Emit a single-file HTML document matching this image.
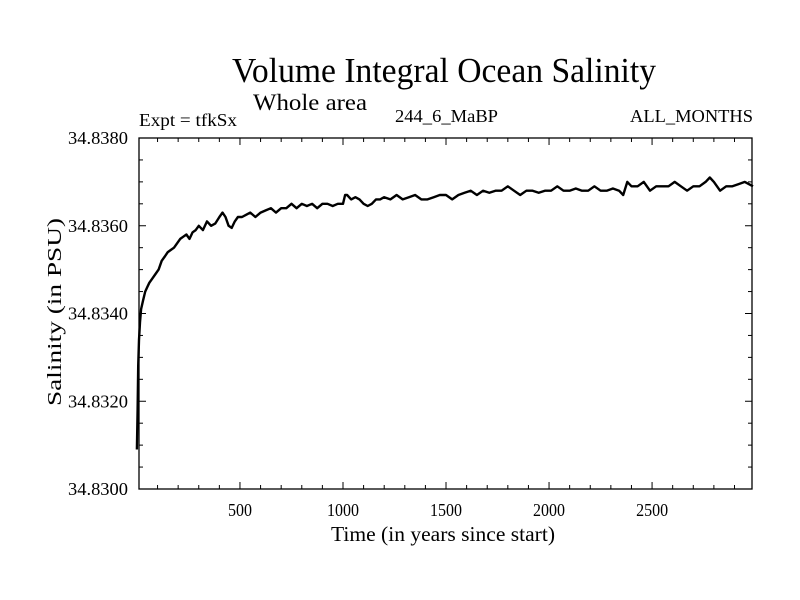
<!DOCTYPE html>
<html><head><meta charset="utf-8"><style>
body{margin:0;background:#fff}
svg{display:block;font-family:"Liberation Serif",serif}
</style></head><body>
<svg id="chart" width="800" height="600">
<text x="232" y="82" font-size="35" textLength="424" lengthAdjust="spacingAndGlyphs">Volume Integral Ocean Salinity</text>
<text x="253" y="110" font-size="23" textLength="114" lengthAdjust="spacingAndGlyphs">Whole area</text>
<text x="139" y="126" font-size="18" textLength="98" lengthAdjust="spacingAndGlyphs">Expt = tfkSx</text>
<text x="395" y="122" font-size="18" textLength="103" lengthAdjust="spacingAndGlyphs">244_6_MaBP</text>
<text x="630" y="122" font-size="18" textLength="123" lengthAdjust="spacingAndGlyphs">ALL_MONTHS</text>
<text x="443" y="541" font-size="21" text-anchor="middle" textLength="224" lengthAdjust="spacingAndGlyphs">Time (in years since start)</text>
<text transform="translate(61,312) rotate(-90)" font-size="20" text-anchor="middle" textLength="188" lengthAdjust="spacingAndGlyphs">Salinity (in PSU)</text>
<g id="axes"></g>
<g id="series"></g>
</svg>
<script>
const xTicks=[500,1000,1500,2000,2500];
const yTicks=[34.830,34.832,34.834,34.836,34.838];
const yTickLabels=["34.8300","34.8320","34.8340","34.8360","34.8380"];
const years=[0,3,6,10,15,20,30,40,50,60,75,90,105,120,135,150,165,180,195,210,225,240,255,270,285,300,320,340,360,380,400,415,430,445,460,475,490,510,530,550,575,600,625,650,675,700,725,750,775,800,825,850,875,900,925,950,975,1000,1010,1020,1040,1060,1080,1100,1120,1140,1160,1180,1200,1230,1260,1290,1320,1350,1380,1410,1440,1470,1500,1530,1560,1590,1620,1650,1680,1710,1740,1770,1800,1830,1860,1890,1920,1950,1980,2010,2040,2070,2100,2130,2160,2190,2220,2250,2280,2310,2340,2360,2380,2400,2430,2460,2490,2520,2550,2580,2610,2640,2670,2700,2730,2760,2780,2800,2830,2860,2890,2920,2950,2990];
const salinity=[34.8309,34.8318,34.8328,34.8334,34.8338,34.8341,34.8343,34.8345,34.8346,34.8347,34.8348,34.8349,34.8350,34.8352,34.8353,34.8354,34.83545,34.8355,34.8356,34.8357,34.83575,34.8358,34.8357,34.83585,34.8359,34.8360,34.8359,34.8361,34.8360,34.83605,34.8362,34.8363,34.8362,34.8360,34.83595,34.8361,34.8362,34.8362,34.83625,34.8363,34.8362,34.8363,34.83635,34.8364,34.8363,34.8364,34.8364,34.8365,34.8364,34.8365,34.83645,34.8365,34.8364,34.8365,34.8365,34.83645,34.8365,34.8365,34.8367,34.8367,34.8366,34.83665,34.8366,34.8365,34.83645,34.8365,34.8366,34.8366,34.83665,34.8366,34.8367,34.8366,34.83665,34.8367,34.8366,34.8366,34.83665,34.8367,34.8367,34.8366,34.8367,34.83675,34.8368,34.8367,34.8368,34.83675,34.8368,34.8368,34.8369,34.8368,34.8367,34.8368,34.8368,34.83675,34.8368,34.8368,34.8369,34.8368,34.8368,34.83685,34.8368,34.8368,34.8369,34.8368,34.8368,34.83685,34.8368,34.8367,34.8370,34.8369,34.8369,34.8370,34.8368,34.8369,34.8369,34.8369,34.8370,34.8369,34.8368,34.8369,34.8369,34.8370,34.8371,34.8370,34.8368,34.8369,34.8369,34.83695,34.8370,34.8369];
const X0=139,X1=752,Y0=138,Y1=489,XMIN=10,XMAX=2985,YMIN=34.830,YMAX=34.838;
const sx=v=>X0+(v-XMIN)/(XMAX-XMIN)*(X1-X0);
const sy=v=>Y1-(v-YMIN)/(YMAX-YMIN)*(Y1-Y0);
const NS="http://www.w3.org/2000/svg";
const axes=document.getElementById('axes');
function mk(tag,attrs,parent){const e=document.createElementNS(NS,tag);for(const k in attrs)e.setAttribute(k,attrs[k]);parent.appendChild(e);return e;}
const frame=mk('rect',{x:X0,y:Y0,width:X1-X0,height:Y1-Y0,fill:'none',stroke:'#000','stroke-width':1.3},axes);


for(let t=100;t<XMAX;t+=100){const big=t%500===0;const L=big?7:4;
 mk('line',{x1:sx(t),x2:sx(t),y1:Y1,y2:Y1-L,stroke:'#000'},axes);
 mk('line',{x1:sx(t),x2:sx(t),y1:Y0,y2:Y0+L,stroke:'#000'},axes);}
for(let i=1;i<16;i++){const v=YMIN+i*0.0005;const big=i%4===0;const L=big?7:4;
 mk('line',{x1:X0,x2:X0+L,y1:sy(v),y2:sy(v),stroke:'#000'},axes);
 mk('line',{x1:X1,x2:X1-L,y1:sy(v),y2:sy(v),stroke:'#000'},axes);}
xTicks.forEach(t=>{const e=mk('text',{x:sx(t),y:516,'font-size':18,'text-anchor':'middle',textLength:String(t).length*8,lengthAdjust:'spacingAndGlyphs'},axes);e.textContent=t;
 
 });
yTicks.forEach((v,i)=>{const e=mk('text',{x:128,y:sy(v)+6,'font-size':18,'text-anchor':'end',textLength:60,lengthAdjust:'spacingAndGlyphs'},axes);e.textContent=yTickLabels[i];
 
 });
const d=years.map((y,i)=>(i?'L':'M')+sx(y).toFixed(1)+','+sy(salinity[i]).toFixed(1)).join('');
const line=mk('path',{d:d,fill:'none',stroke:'#000','stroke-width':2.4,'stroke-linejoin':'round'},document.getElementById('series'));


</script>
</body></html>
